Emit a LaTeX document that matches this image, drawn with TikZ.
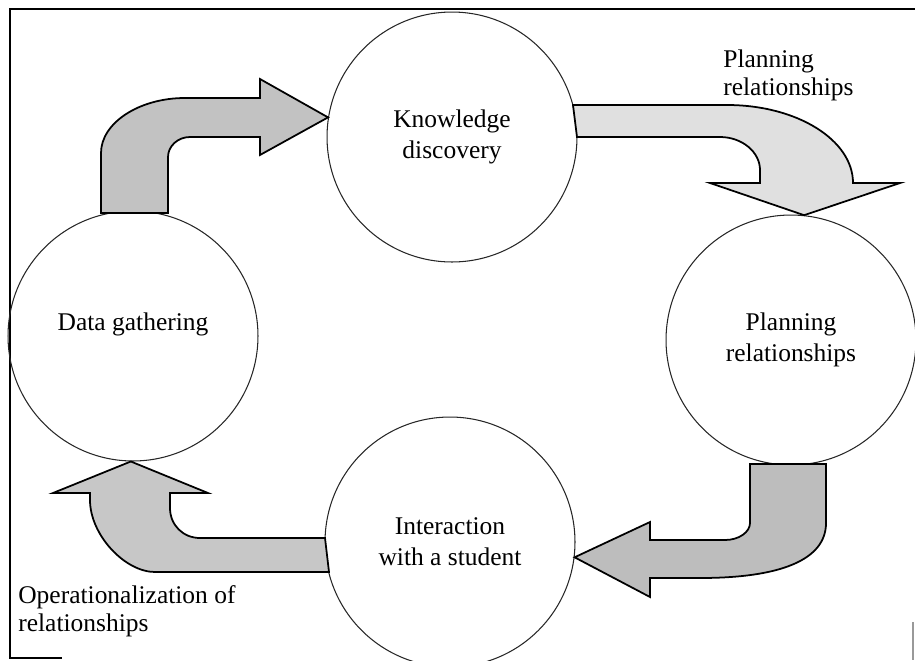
\documentclass[tikz,border=0pt]{standalone}
\usepackage{fontspec}
\setmainfont{Liberation Serif}
\usepackage{tikz}
\usetikzlibrary{arrows}

\begin{document}
\begin{tikzpicture}[x=0.02cm,
            y=-0.02cm,
            font=\fontsize{14.5}{17.5}\selectfont,
            stage/.style={circle,draw=black!85,line width=0.6pt,
                          minimum size=5cm,inner sep=0pt,align=center},
            blockarrow/.style={draw=black,line width=1pt,line join=miter},
            note/.style={anchor=west,align=left,inner sep=0pt,
                         font=\fontsize{14.5}{16}\selectfont},
            frame/.style={line width=1.1pt}]

        \useasboundingbox (0,0) rectangle (915,660);

        \draw[frame] (915,9) -- (10,9) -- (10,658) -- (62,658);
        \draw[black!40,line width=0.8pt] (913,622) -- (913,660);

        \node[stage] (gather)      at (133,336) {Data gathering\\[-1.5pt]};
        \node[stage] (knowledge)   at (452,137) {Knowledge\\discovery};
        \node[stage] (planning)    at (791,340) {Planning\\relationships};
        \node[stage] (interaction) at (450,542) {Interaction\\with a student};

        \node[note] (planlabel) at (723,75)  {Planning\\relationships};
        \node[note] (oplabel)   at (18,611)  {Operationalization of\\relationships};

        \path[blockarrow,fill=black!24]
              (101,213) -- (101,153) .. controls (101,123) and (139,98) .. (185,98)
              -- (260,98) -- (260,79) -- (knowledge.171) -- (260,155) -- (260,137)
              -- (190,137) .. controls (178,137) and (168,146) .. (168,157)
              -- (168,213) -- cycle;
        \path[blockarrow,fill=black!12]
              (573,105) -- (727,105) .. controls (797,105) and (853,140) .. (853,183)
              -- (900,183) -- (planning.84) -- (710,183) -- (760,183)
              -- (760,170) .. controls (760,152) and (742,137) .. (720,137)
              -- (577,137) -- cycle;
        \path[blockarrow,fill=black!26]
              (750,464) -- (826,464) -- (826,523) .. controls (826,560) and (780,578) .. (700,578)
              -- (650,578) -- (650,597) -- (interaction.-7) -- (650,522) -- (650,540)
              -- (725,540) .. controls (739,540) and (750,532) .. (750,523) -- cycle;
        \path[blockarrow,fill=black!22]
              (325,538) -- (200,538) .. controls (183,538) and (170,525) .. (170,508)
              -- (170,493) -- (208,493) -- (gather.-91) -- (53,493) -- (90,493)
              -- (90,500) .. controls (90,535) and (125,572) .. (155,572)
              -- (329,572) -- cycle;

\end{tikzpicture}
\end{document}
